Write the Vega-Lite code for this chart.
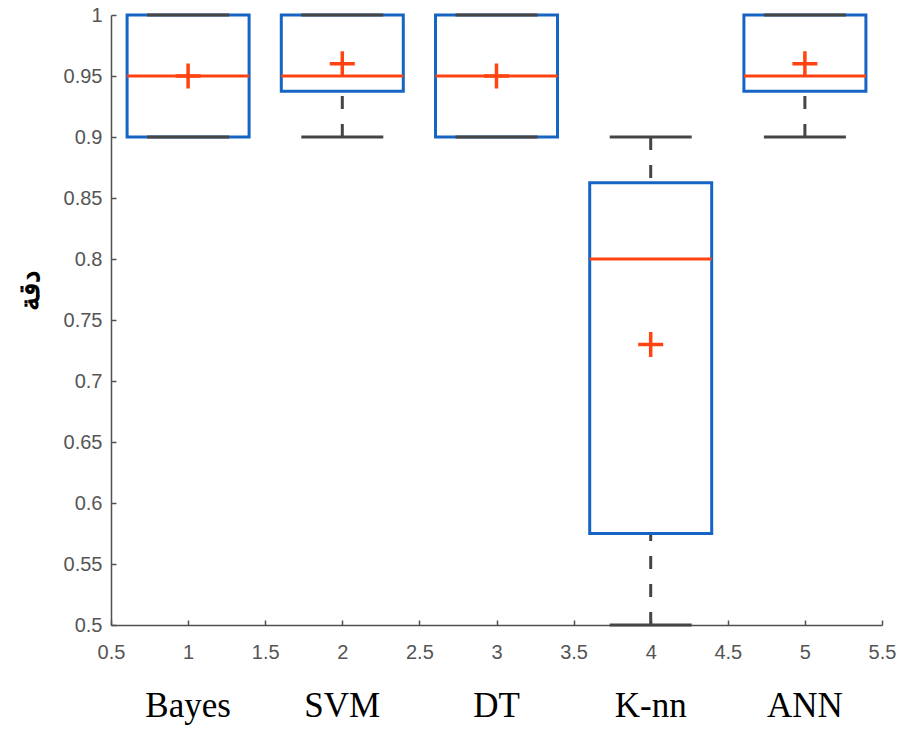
{
  "$schema": "https://vega.github.io/schema/vega-lite/v6.json",
  "autosize": "none",
  "padding": {"left": 111, "top": 15, "right": 22, "bottom": 106},
  "width": 771,
  "height": 610,
  "background": "white",
  "config": {
    "view": {"stroke": null},
    "axis": {
      "grid": false,
      "domainColor": "#505050",
      "domainWidth": 1.5,
      "tickColor": "#505050",
      "tickWidth": 1.5,
      "labelColor": "#555555",
      "labelFont": "Liberation Sans",
      "labelFontSize": 20
    }
  },
  "data": {
    "values": [
      {"name": "Bayes", "x": 1, "lo": 0.9, "q1": 0.9, "med": 0.95, "q3": 1.0, "hi": 1.0, "mean": 0.95},
      {"name": "SVM", "x": 2, "lo": 0.9, "q1": 0.9375, "med": 0.95, "q3": 1.0, "hi": 1.0, "mean": 0.96},
      {"name": "DT", "x": 3, "lo": 0.9, "q1": 0.9, "med": 0.95, "q3": 1.0, "hi": 1.0, "mean": 0.95},
      {"name": "K-nn", "x": 4, "lo": 0.5, "q1": 0.575, "med": 0.8, "q3": 0.8625, "hi": 0.9, "mean": 0.73},
      {"name": "ANN", "x": 5, "lo": 0.9, "q1": 0.9375, "med": 0.95, "q3": 1.0, "hi": 1.0, "mean": 0.96}
    ]
  },
  "encoding": {
    "x": {
      "field": "x",
      "type": "quantitative",
      "scale": {"domain": [0.5, 5.5], "nice": false, "zero": false, "padding": 0},
      "axis": {
        "title": null,
        "values": [0.5, 1, 1.5, 2, 2.5, 3, 3.5, 4, 4.5, 5, 5.5],
        "format": "~g",
        "tickSize": -5,
        "labelPadding": 22,
        "labelFlush": false
      }
    }
  },
  "layer": [
    {
      "mark": {"type": "rule", "color": "#454545", "strokeWidth": 3, "strokeDash": [13, 15]},
      "encoding": {
        "y": {
          "field": "hi",
          "type": "quantitative",
          "scale": {"domain": [0.5, 1], "nice": false, "zero": false, "padding": 0},
          "axis": {
            "title": "دقة",
            "titleFont": "Liberation Serif",
            "titleFontSize": 28,
            "titleFontWeight": "bold",
            "titleColor": "black",
            "titleAngle": -90,
            "titleX": -81,
            "titleY": 275,
            "titleAlign": "center",
            "titleBaseline": "middle",
            "values": [0.5, 0.55, 0.6, 0.65, 0.7, 0.75, 0.8, 0.85, 0.9, 0.95, 1],
            "format": "~g",
            "tickSize": -5,
            "labelPadding": 14
          }
        },
        "y2": {"field": "q3"}
      }
    },
    {
      "mark": {"type": "rule", "color": "#454545", "strokeWidth": 3, "strokeDash": [13, 15]},
      "encoding": {
        "y": {"field": "lo", "type": "quantitative"},
        "y2": {"field": "q1"}
      }
    },
    {
      "mark": {"type": "bar", "size": 122, "fill": "transparent", "stroke": "#1664C4", "strokeWidth": 3, "opacity": 1},
      "encoding": {
        "y": {"field": "q1", "type": "quantitative"},
        "y2": {"field": "q3"}
      }
    },
    {
      "mark": {"type": "tick", "orient": "horizontal", "size": 82, "thickness": 3, "color": "#454545", "opacity": 1},
      "encoding": {
        "y": {"field": "hi", "type": "quantitative"}
      }
    },
    {
      "mark": {"type": "tick", "orient": "horizontal", "size": 82, "thickness": 3, "color": "#454545", "opacity": 1},
      "encoding": {
        "y": {"field": "lo", "type": "quantitative"}
      }
    },
    {
      "mark": {"type": "tick", "orient": "horizontal", "size": 122, "thickness": 3, "color": "#FF4412", "opacity": 1},
      "encoding": {
        "y": {"field": "med", "type": "quantitative"}
      }
    },
    {
      "mark": {"type": "point", "shape": "M-1,0L1,0M0,-1L0,1", "size": 625, "filled": false, "stroke": "#FF4412", "strokeWidth": 3.5, "opacity": 1},
      "encoding": {
        "y": {"field": "mean", "type": "quantitative"}
      }
    },
    {
      "mark": {"type": "text", "font": "Liberation Serif", "fontSize": 35, "color": "black", "baseline": "alphabetic", "align": "center", "dy": 92},
      "encoding": {
        "y": {"datum": 0.5, "type": "quantitative"},
        "text": {"field": "name"}
      }
    }
  ]
}
